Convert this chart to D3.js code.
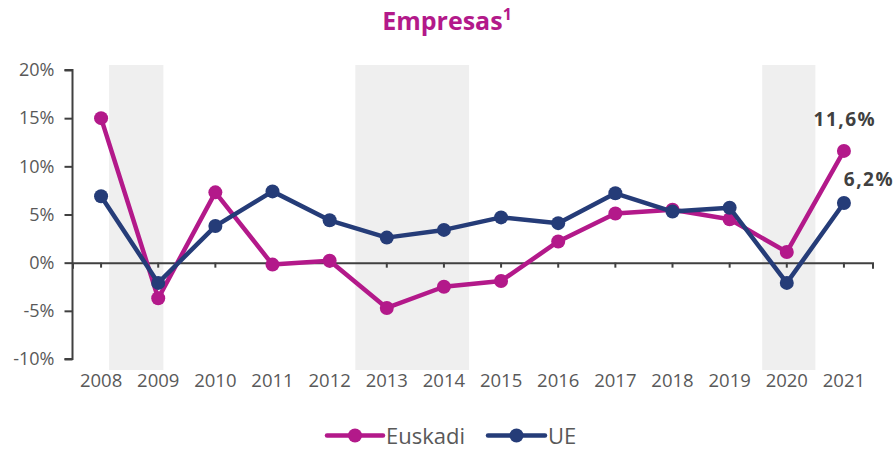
<!DOCTYPE html>
<html><head><meta charset="utf-8">
<script src="https://cdn.jsdelivr.net/npm/d3@7"></script>
<style>
body{margin:0;background:#fff;}
svg{display:block;}
text{font-family:"Open Sans",sans-serif;}
</style></head>
<body><svg id="c" width="894" height="449"></svg>
<script>
const years = [2008,2009,2010,2011,2012,2013,2014,2015,2016,2017,2018,2019,2020,2021];
const euskadi = [15.0,-3.7,7.3,-0.2,0.2,-4.7,-2.5,-1.9,2.2,5.1,5.5,4.5,1.1,11.6];
const ue = [6.9,-2.1,3.8,7.4,4.4,2.6,3.4,4.7,4.1,7.2,5.3,5.7,-2.1,6.2];
const yTicks = [-10,-5,0,5,10,15,20];
const shadeRanges = [[2008.14,2009.09],[2012.45,2014.44],[2019.57,2020.5]];
const seriesNames = ["Euskadi","UE"];
const endLabels = ["11,6%","6,2%"];
const title = "Empresas";
const titleSup = "1";

const colors = {Euskadi:"#B3198A", UE:"#253C78"};
const svg = d3.select("#c");
const x = d3.scaleBand().domain(years).range([72.5,872.5]);
const cx = d => x(d) + x.bandwidth()/2;
const xl = d3.scaleLinear().domain([years[0], years[years.length-1]]).range([cx(years[0]), cx(years[years.length-1])]);
const y = d3.scaleLinear().domain([-10,20]).range([359,70]);

// shading
svg.append("g").selectAll("rect").data(shadeRanges).join("rect")
  .attr("x", d=>xl(d[0])).attr("width", d=>xl(d[1])-xl(d[0]))
  .attr("y", y(20)-5).attr("height", y(-10)+11-(y(20)-5))
  .attr("fill","#efefef");

// y axis
const ya = svg.append("g").attr("transform","translate(72.5,0)")
  .call(d3.axisLeft(y).tickValues(yTicks).tickFormat(d=>d+"%").tickSize(8).tickSizeOuter(8).tickPadding(10));
ya.selectAll("path,line").attr("stroke","#404040").attr("stroke-width",2);
ya.selectAll("text").attr("font-size","18px").attr("fill","#595959");
ya.select(".domain").attr("d","M-8,"+y(20)+"H0V"+y(-10)+"H-8");

// x axis at zero
const xa = svg.append("g").attr("transform","translate(0,"+y(0)+")")
  .call(d3.axisBottom(x).tickSize(5).tickSizeOuter(6).tickFormat(""));
xa.selectAll("path,line").attr("stroke","#404040").attr("stroke-width",2);

// x labels
const xb = svg.append("g").attr("transform","translate(0,374)")
  .call(d3.axisBottom(x).tickSize(0).tickPadding(0));
xb.select(".domain").remove();
xb.selectAll("text").attr("font-size","18.5px").attr("fill","#595959").attr("dy","0.71em");

// lines
const data = {Euskadi:euskadi, UE:ue};
const line = d3.line().x((d,i)=>cx(years[i])).y(d=>y(d));
seriesNames.forEach(name=>{
  const g = svg.append("g");
  g.append("path").datum(data[name]).attr("d",line).attr("fill","none")
    .attr("stroke",colors[name]).attr("stroke-width",4.5).attr("stroke-linejoin","round");
  g.selectAll("circle").data(data[name]).join("circle")
    .attr("cx",(d,i)=>cx(years[i])).attr("cy",d=>y(d)).attr("r",7).attr("fill",colors[name]);
});

// end labels
const last = years.length-1;
svg.append("text").attr("x",cx(years[last])+1).attr("y",y(euskadi[last])-25)
  .attr("text-anchor","middle").attr("font-size","19px").attr("font-weight","bold")
  .attr("letter-spacing","1.5px").attr("fill","#404040").text(endLabels[0]);
svg.append("text").attr("x",cx(years[last])+25).attr("y",y(ue[last])-17)
  .attr("text-anchor","middle").attr("font-size","19px").attr("font-weight","bold")
  .attr("letter-spacing","1.5px").attr("fill","#404040").text(endLabels[1]);

// title
const t = svg.append("text").attr("x",447).attr("y",30).attr("text-anchor","middle")
  .attr("font-size","25px").attr("font-weight","bold").attr("fill","#B3198A");
t.append("tspan").text(title);
t.append("tspan").attr("font-size","16px").attr("dy","-10").text(titleSup);

// legend
const leg = [{name:"Euskadi",x:327,w:56},{name:"UE",x:488,w:57}];
leg.forEach(l=>{
  const g = svg.append("g");
  g.append("line").attr("x1",l.x).attr("x2",l.x+l.w).attr("y1",435.5).attr("y2",435.5)
    .attr("stroke",colors[l.name]).attr("stroke-width",4.5).attr("stroke-linecap","round");
  g.append("circle").attr("cx",l.x+l.w/2).attr("cy",435.5).attr("r",7).attr("fill",colors[l.name]);
  g.append("text").attr("x",l.x+l.w+3).attr("y",443.5).attr("font-size","22px").attr("fill","#595959").text(l.name);
});
</script></body></html>
